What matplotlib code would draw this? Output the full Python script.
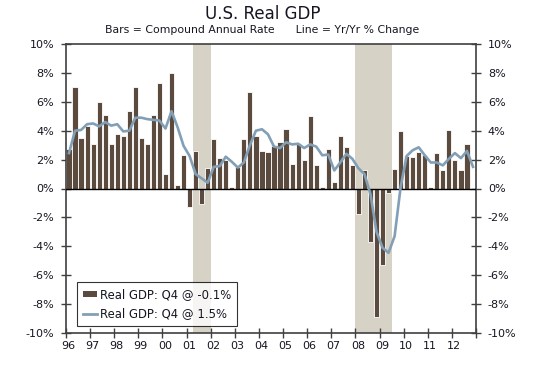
import matplotlib
matplotlib.use("Agg")
import matplotlib.pyplot as plt
import numpy as np
from matplotlib.lines import Line2D
from matplotlib.patches import Patch

# quarterly data, 1996 Q1 .. 2012 Q4
quarters = np.arange(1996, 2013, 0.25)

bars_saar = [
    2.7, 7.0, 3.5, 4.3,      # 1996
    3.05, 6.0, 5.1, 3.05,    # 1997
    3.75, 3.6, 5.35, 7.0,    # 1998
    3.5, 3.1, 5.1, 7.3,      # 1999
    1.0, 8.0, 0.25, 2.35,    # 2000
    -1.3, 2.6, -1.1, 1.4,    # 2001
    3.4, 2.1, 2.0, 0.1,      # 2002
    1.5, 3.4, 6.7, 3.6,      # 2003
    2.6, 2.5, 2.95, 3.25,    # 2004
    4.15, 1.7, 3.1, 2.0,     # 2005
    5.05, 1.6, 0.1, 2.7,     # 2006
    0.45, 3.6, 2.9, 1.65,    # 2007
    -1.75, 1.3, -3.7, -8.9,  # 2008
    -5.3, -0.3, 1.35, 4.0,   # 2009
    2.25, 2.2, 2.55, 2.3,    # 2010
    0.1, 2.45, 1.25, 4.05,   # 2011
    1.95, 1.25, 3.1, -0.1,   # 2012
]

line_yoy = [
    2.45, 4.0, 4.05, 4.45,
    4.5, 4.3, 4.6, 4.35,
    4.45, 3.95, 4.0, 4.9,
    4.9, 4.8, 4.75, 4.7,
    4.15, 5.35, 4.25, 2.95,
    2.25, 1.0, 0.7, 0.4,
    1.5, 1.55, 2.2, 1.85,
    1.45, 1.8, 3.0, 4.0,
    4.1, 3.75, 2.9, 2.8,
    3.2, 3.05, 3.1, 2.8,
    3.05, 2.9, 2.3, 2.35,
    1.25, 1.8, 2.4, 2.05,
    1.4, 1.0, -0.4, -3.0,
    -4.1, -4.45, -3.3, 0.1,
    2.25, 2.65, 2.85, 2.3,
    1.8, 1.8, 1.6, 2.05,
    2.45, 2.1, 2.6, 1.5,
]

recessions = [(2001.25, 2002.0), (2008.0, 2009.5)]
year_ticks = np.arange(1996, 2014)
year_labels = [f"{y % 100:02d}" for y in range(1996, 2013)]
y_ticks = np.arange(-10, 11, 2)

BAR_COLOR = "#5b4b3f"
LINE_COLOR = "#829fb6"
SHADE_COLOR = "#d6d2c6"
TEXT_COLOR = "#161622"
SPINE_COLOR = "#404040"

fig = plt.figure(figsize=(5.38, 3.66), dpi=100)
ax = fig.add_axes([66 / 538, 1 - 333 / 366, 410 / 538, 289 / 366])

for start, end in recessions:
    ax.axvspan(start, end, color=SHADE_COLOR, lw=0, zorder=0)

centers = quarters + 0.125
ax.bar(centers, bars_saar, width=0.215, color=BAR_COLOR, edgecolor="white",
       linewidth=0.6, zorder=2)
ax.axhline(0, color="black", lw=1.0, zorder=3)
ax.plot(centers, line_yoy, color=LINE_COLOR, lw=1.9, zorder=4,
        solid_joinstyle="round")

ax.set_xlim(1996, 2013)
ax.set_ylim(-10, 10)

ax.set_yticks(y_ticks)
ax.set_yticklabels([f"{v}%" for v in y_ticks])
ax.tick_params(axis="y", which="major", direction="inout", length=7, width=1,
               color=SPINE_COLOR, left=True, right=True, labelleft=True,
               labelright=True, labelsize=8, labelcolor=TEXT_COLOR, pad=5)

ax.set_xticks(year_ticks)
ax.set_xticklabels([])
ax.set_xticks(np.arange(1996, 2013) + 0.1, minor=True)
ax.set_xticklabels(year_labels, minor=True)
ax.tick_params(axis="x", which="major", direction="inout", length=7, width=1,
               color=SPINE_COLOR)
ax.tick_params(axis="x", which="minor", length=0, labelsize=8,
               labelcolor=TEXT_COLOR, pad=6)

for spine in ax.spines.values():
    spine.set_color(SPINE_COLOR)
    spine.set_linewidth(1.2)

handles = [
    Patch(facecolor=BAR_COLOR, edgecolor="none"),
    Line2D([0], [0], color=LINE_COLOR, lw=2),
]
labels = ["Real GDP: Q4 @ -0.1%", "Real GDP: Q4 @ 1.5%"]
leg = ax.legend(handles, labels, loc="lower left", bbox_to_anchor=(0.028, 0.023),
                fontsize=8.4, frameon=True, fancybox=False, handlelength=1.2,
                handleheight=0.45, handletextpad=0.25, borderpad=0.5,
                labelspacing=0.55, borderaxespad=0)
leg.get_frame().set_edgecolor("black")
leg.get_frame().set_linewidth(0.8)
for text in leg.get_texts():
    text.set_color(TEXT_COLOR)

fig.text(0.488, 0.962, "U.S. Real GDP", ha="center", va="center",
         fontsize=12, color=TEXT_COLOR)
fig.text(0.488, 0.918, "Bars = Compound Annual Rate      Line = Yr/Yr % Change",
         ha="center", va="center", fontsize=7.8, color=TEXT_COLOR)

fig.savefig("out.png", dpi=100)
